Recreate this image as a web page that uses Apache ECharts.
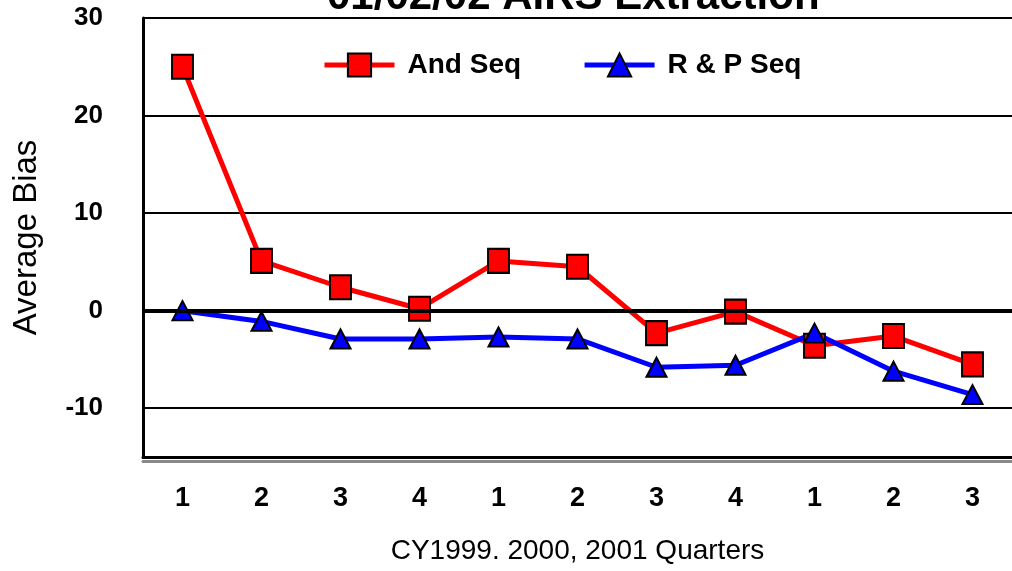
<!DOCTYPE html>
<html>
<head>
<meta charset="utf-8">
<title>01/02/02 AIRS Extraction</title>
<script src="https://cdn.jsdelivr.net/npm/echarts@6/dist/echarts.min.js"></script>
<style>
  html, body { margin: 0; padding: 0; background: #fff; }
  #main { width: 1012px; height: 571px; }
</style>
</head>
<body>
<div id="main"></div>
<script>
// quarters of CY1999, 2000, 2001
var quarters = ['1', '2', '3', '4', '1', '2', '3', '4', '1', '2', '3']
var andSeq = [25, 5.1, 2.4, 0.2, 5.1, 4.5, -2.3, -0.1, -3.6, -2.6, -5.5]
var rpSeq = [0, -1.1, -2.9, -2.9, -2.7, -2.9, -5.8, -5.6, -2.3, -6.2, -8.6]

var FONT = '"Liberation Sans", Arial, sans-serif'

var myChart = echarts.init(document.getElementById('main'))

var option = {
  animation: false,
  backgroundColor: '#fff',
  title: {
    text: '01/02/02 AIRS Extraction',
    left: 327,
    top: -24,
    padding: 0,
    textStyle: {
      fontFamily: FONT,
      fontSize: 42,
      lineHeight: 42,
      fontWeight: 'bold',
      color: '#000'
    }
  },
  legend: {
    data: ['And Seq', 'R & P Seq'],
    left: 322,
    top: 51,
    padding: 0,
    itemWidth: 70,
    itemHeight: 29,
    itemGap: 61,
    lineStyle: { width: 5 },
    textStyle: {
      fontFamily: FONT,
      fontSize: 28,
      lineHeight: 28,
      fontWeight: 'bold',
      color: '#000',
      padding: [0, 0, 0, 8]
    }
  },
  grid: {
    left: 143,
    top: 18,
    width: 879,
    height: 439,
    containLabel: false
  },
  xAxis: {
    type: 'category',
    data: quarters,
    name: 'CY1999. 2000, 2001 Quarters',
    nameLocation: 'middle',
    nameGap: 80,
    nameTextStyle: { fontFamily: FONT, fontSize: 28, color: '#000' },
    axisLine: {
      onZero: false,
      lineStyle: { color: '#000', width: 3, shadowColor: '#888', shadowOffsetY: 4, shadowBlur: 0 }
    },
    axisTick: { show: false },
    axisLabel: {
      margin: 28,
      fontFamily: FONT,
      fontSize: 27,
      fontWeight: 'bold',
      color: '#000'
    }
  },
  yAxis: {
    type: 'value',
    min: -15,
    max: 30,
    splitNumber: 5,
    name: 'Average Bias',
    nameLocation: 'middle',
    nameGap: 100,
    nameTextStyle: { fontFamily: FONT, fontSize: 33, color: '#000' },
    axisLine: { show: true, lineStyle: { color: '#000', width: 3 } },
    axisTick: { show: false },
    axisLabel: {
      showMinLabel: false,
      margin: 40,
      fontFamily: FONT,
      fontSize: 26,
      fontWeight: 'bold',
      color: '#000'
    },
    splitLine: { lineStyle: { color: '#000', width: 2 } }
  },
  series: [
    {
      name: 'And Seq',
      type: 'line',
      data: andSeq,
      symbol: 'rect',
      symbolSize: [21, 24],
      lineStyle: { color: '#ff0000', width: 5 },
      itemStyle: { color: '#ff0000', borderColor: '#000', borderWidth: 2 },
      markLine: {
        silent: true,
        symbol: 'none',
        label: { show: false },
        lineStyle: { color: '#000', width: 4, type: 'solid' },
        data: [{ yAxis: 0 }]
      }
    },
    {
      name: 'R & P Seq',
      type: 'line',
      data: rpSeq,
      symbol: 'triangle',
      symbolSize: [20, 19],
      lineStyle: { color: '#0000ff', width: 5 },
      itemStyle: { color: '#0000ff', borderColor: '#000', borderWidth: 2 }
    }
  ]
}

myChart.setOption(option)
</script>
</body>
</html>
